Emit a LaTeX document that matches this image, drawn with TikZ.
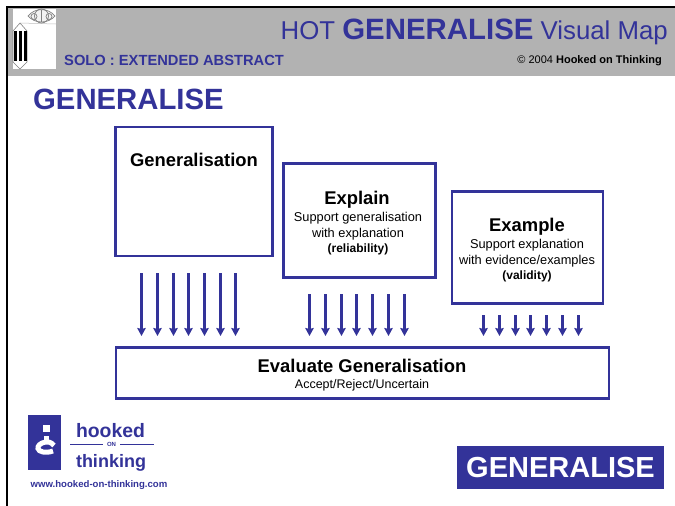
\documentclass[tikz,border=0pt]{standalone}
\usepackage{fontspec}
\setmainfont{Liberation Sans}
\definecolor{hotblue}{RGB}{51,51,153}
\definecolor{hotgray}{RGB}{178,178,178}
\usetikzlibrary{arrows.meta}
\tikzset{
  mapbox/.style={draw=hotblue,line width=2.9pt,fill=white},
  flow/.style={draw=hotblue,line width=2.5pt,-{Stealth[length=8pt,width=8.5pt,inset=1pt]}},
  txt/.style={inner sep=0pt,align=center,text=black},
  blue/.style={inner sep=0pt,text=hotblue}
}
\newcommand{\fs}[1]{\fontsize{#1}{#1}\selectfont}
\begin{document}
\begin{tikzpicture}[x=1pt,y=-1pt]
\useasboundingbox (0,0) rectangle (675,506);
\fill[white] (0,0) rectangle (675,506);
% header
\fill[hotgray] (7,7) rectangle (675,76);
\draw[black,line width=2.6pt] (7,506) -- (7,7) -- (675,7);
\fill[white] (13,9) rectangle (56,69);
% logo drawing
\draw[gray!50,line width=.5pt] (20,23) -- (56,24);
\draw[gray,line width=.7pt,fill=gray!10] (28,16) .. controls (35,7.5) and (48,7.5) .. (55,16) .. controls (48,24) and (35,24) .. (28,16) -- cycle;
\draw[gray,line width=.7pt] (41.5,16) circle (7);
\draw[gray,line width=.7pt] (34,16.5) circle (3);
\draw[gray,line width=.7pt] (49,16.5) circle (3);
\draw[gray,line width=.7pt] (41.5,10) -- (41.5,22);
\draw[gray,line width=.6pt] (20,23) -- (27,31) -- (27,62) -- (20,69) -- (13,62) -- (13,31) -- cycle;
\foreach \x in {15,20.2,25.4}{\fill[black] (\x-1.5,31) rectangle (\x+1.5,61);}
% header text
\node[blue,anchor=base east] (title) at (668,39) {\fs{25.8}HOT \textbf{\fs{29.4}GENERALISE} Visual Map};
\node[blue,anchor=base west] (solo) at (64,65) {\fs{14.7}\textbf{SOLO : EXTENDED ABSTRACT}};
\node[txt,anchor=base east] (copy) at (662,63) {\fs{11}© 2004 \textbf{Hooked on Thinking}};
\node[blue,anchor=base west] (head) at (33,109) {\fs{29.3}\textbf{GENERALISE}};
% boxes
\node[mapbox,inner sep=0pt,minimum width=157pt,minimum height=129pt] (b1) at (194,191.5) {};
\node[mapbox,inner sep=0pt,minimum width=152pt,minimum height=114pt] (b2) at (359.5,220.5) {};
\node[mapbox,inner sep=0pt,minimum width=151pt,minimum height=112pt] (b3) at (527.5,247.5) {};
\node[mapbox,inner sep=0pt,minimum width=493pt,minimum height=51pt] (b4) at (362.5,373) {};
\node[txt] (t1) at (194,160) {\fs{18.4}\textbf{Generalisation}};
\node[txt] (t2a) at (357,200) {\fs{18.4}\textbf{Explain}};
\node[txt] (t2b) at (358,233.5) {\fs{12.8}Support generalisation\\[4pt]\fs{12.8}with explanation\\[3pt]\fs{12}\textbf{(reliability)}};
\node[txt] (t3a) at (527,227) {\fs{18.4}\textbf{Example}};
\node[txt] (t3b) at (527,260.5) {\fs{12.8}Support explanation\\[4pt]\fs{12.8}with evidence/examples\\[3.5pt]\fs{12}\textbf{(validity)}};
\node[txt] (t4a) at (362,366) {\fs{18.4}\textbf{Evaluate Generalisation}};
\node[txt] (t4b) at (362,385.5) {\fs{12.5}Accept/Reject/Uncertain};
% arrows
\foreach \x in {141.5,157.5,173.5,188.5,204.5,220.5,235.5}{
  \coordinate (s) at (\x,273); \coordinate (e) at (\x,336);
  \draw[flow] (s) -- (e);}
\foreach \x in {309.5,325.5,341.5,356.5,372.5,388.5,404.5}{
  \coordinate (s) at (\x,294); \coordinate (e) at (\x,336);
  \draw[flow] (s) -- (e);}
\foreach \x in {483.5,499.5,515.5,530.5,546.5,562.5,578.5}{
  \coordinate (s) at (\x,315); \coordinate (e) at (\x,336);
  \draw[flow] (s) -- (e);}
% hooked logo
\fill[hotblue] (28,415) rectangle (61,470);
\fill[white] (43,425) rectangle (50,432);
\fill[white] (44,436) rectangle (49,442);
\draw[white,line width=5pt] (54,445.5) .. controls (51,442) and (48,441.5) .. (45.5,442) .. controls (40,443) and (37.5,446) .. (38,448.5) .. controls (38.5,452) and (46,453.5) .. (53,451);
\node[blue,anchor=base] (hk) at (110.5,437) {\fs{19.4}\textbf{hooked}};
\node[blue,anchor=base] (th) at (111,467) {\fs{18}\textbf{thinking}};
\node[blue] (on) at (111.5,444.5) {\fs{6}\textbf{ON}};
\coordinate (la) at (70,444.5); \coordinate (lb) at (103,444.5);
\coordinate (lc) at (120,444.5); \coordinate (ld) at (154,444.5);
\draw[hotblue,line width=1.2pt] (la) -- (lb) (lc) -- (ld);
\node[blue,anchor=base] (url) at (99,487) {\fs{9.6}\textbf{www.hooked-on-thinking.com}};
% badge
\node[fill=hotblue,text=white,minimum width=207pt,minimum height=43pt,inner sep=0pt] (badge) at (560.5,467.5) {\fs{29}\textbf{GENERALISE}};
\end{tikzpicture}
\end{document}
